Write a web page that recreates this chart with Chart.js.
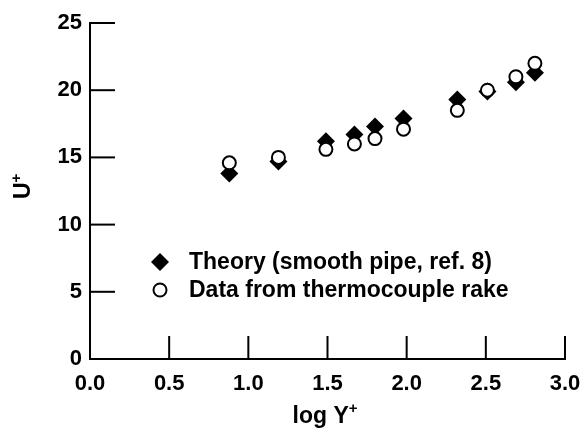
<!DOCTYPE html>
<html>
<head>
<meta charset="utf-8">
<script src="https://cdn.jsdelivr.net/npm/chart.js@4.4.1/dist/chart.umd.min.js"></script>
<style>
  html, body { margin: 0; padding: 0; background: #fff; }
  #wrap { width: 584px; height: 429px; }
</style>
</head>
<body>
<div id="wrap"><canvas id="chart" width="584" height="429"></canvas></div>
<script>
// values
const logY = [0.88, 1.19, 1.49, 1.67, 1.80, 1.98, 2.32, 2.51, 2.69, 2.81];
const theoryU = [13.8, 14.7, 16.2, 16.7, 17.3, 17.9, 19.3, 19.9, 20.6, 21.3];
const rakeU = [14.6, 15.0, 15.6, 16.0, 16.4, 17.1, 18.5, 20.0, 21.0, 22.0];
const xTicks = [0.0, 0.5, 1.0, 1.5, 2.0, 2.5, 3.0];
const yTicks = [0, 5, 10, 15, 20, 25];
const legendLabels = ["Theory (smooth pipe, ref. 8)", "Data from thermocouple rake"];

const FONT = "Liberation Sans, Arial, Helvetica, sans-serif";
const INK = "#000";

const points = (xs, ys) => xs.map((x, i) => ({x, y: ys[i]}));

// inward ticks, axis titles and the in-plot legend
const extras = {
    id: "extras",
    afterDraw(chart) {
        const {ctx, chartArea: a, scales: {x, y}} = chart;
        ctx.save();
        ctx.strokeStyle = INK;
        ctx.lineWidth = 2;
        xTicks.filter(v => v > 0).forEach(v => {
            const px = x.getPixelForValue(v);
            ctx.beginPath(); ctx.moveTo(px, a.bottom); ctx.lineTo(px, a.bottom - 23); ctx.stroke();
        });
        yTicks.filter(v => v > 0).forEach(v => {
            const py = y.getPixelForValue(v);
            ctx.beginPath(); ctx.moveTo(a.left, py); ctx.lineTo(a.left + 25, py); ctx.stroke();
        });

        ctx.fillStyle = INK;
        ctx.textBaseline = "alphabetic";
        ctx.textAlign = "left";

        // x title: log Y+
        ctx.font = "bold 23px " + FONT;
        const base = "log Y";
        const w = ctx.measureText(base).width;
        ctx.font = "bold 15px " + FONT;
        const wp = ctx.measureText("+").width;
        const tx = 325 - (w + wp) / 2;
        ctx.font = "bold 23px " + FONT;
        ctx.fillText(base, tx, 423);
        ctx.font = "bold 15px " + FONT;
        ctx.fillText("+", tx + w, 413);

        // y title: U+ rotated
        ctx.save();
        ctx.translate(30, 199);
        ctx.rotate(-Math.PI / 2);
        ctx.font = "bold 23px " + FONT;
        const wu = ctx.measureText("U").width;
        ctx.fillText("U", 0, 0);
        ctx.font = "bold 15px " + FONT;
        ctx.fillText("+", wu, -9);
        ctx.restore();

        // legend
        const lx = 160, ly = [262, 290];
        ctx.beginPath();
        ctx.moveTo(lx, ly[0] - 9); ctx.lineTo(lx + 9, ly[0]); ctx.lineTo(lx, ly[0] + 9); ctx.lineTo(lx - 9, ly[0]);
        ctx.closePath(); ctx.fill();
        ctx.beginPath(); ctx.arc(lx, ly[1], 6.5, 0, Math.PI * 2);
        ctx.fillStyle = "#fff"; ctx.fill(); ctx.stroke();
        ctx.fillStyle = INK;
        ctx.font = "bold 23px " + FONT;
        ctx.textBaseline = "middle";
        legendLabels.forEach((t, i) => ctx.fillText(t, 189, ly[i] + 1));
        ctx.restore();
    }
};

new Chart(document.getElementById("chart"), {
    type: "scatter",
    data: {
        datasets: [
            {label: legendLabels[0], data: points(logY, theoryU), order: 2,
             pointStyle: "rectRot", pointRadius: 9, backgroundColor: INK, borderColor: INK, borderWidth: 0},
            {label: legendLabels[1], data: points(logY, rakeU), order: 1,
             pointStyle: "circle", pointRadius: 6.5, backgroundColor: "#fff", borderColor: INK, borderWidth: 2},
        ],
    },
    options: {
        responsive: false,
        animation: false,
        layout: {padding: {left: 0, right: 19, top: 23, bottom: 0}},
        plugins: {legend: {display: false}, tooltip: {enabled: false}},
        scales: {
            x: {
                type: "linear", min: 0, max: 3,
                afterBuildTicks: s => { s.ticks = xTicks.map(v => ({value: v})); },
                afterFit: s => { s.height = 70; s.paddingLeft = 0; s.paddingRight = 0; },
                grid: {display: false, drawTicks: false},
                border: {display: true, color: INK, width: 2},
                ticks: {color: INK, padding: 12, font: {family: FONT, size: 22, weight: "bold"},
                        callback: v => Number(v).toFixed(1), maxRotation: 0},
            },
            y: {
                type: "linear", min: 0, max: 25,
                afterBuildTicks: s => { s.ticks = yTicks.map(v => ({value: v})); },
                afterFit: s => { s.width = 90; s.paddingTop = 0; s.paddingBottom = 0; },
                grid: {display: false, drawTicks: false},
                border: {display: true, color: INK, width: 2},
                ticks: {color: INK, padding: 8, font: {family: FONT, size: 22, weight: "bold"}},
            },
        },
    },
    plugins: [extras],
});
</script>
</body>
</html>
